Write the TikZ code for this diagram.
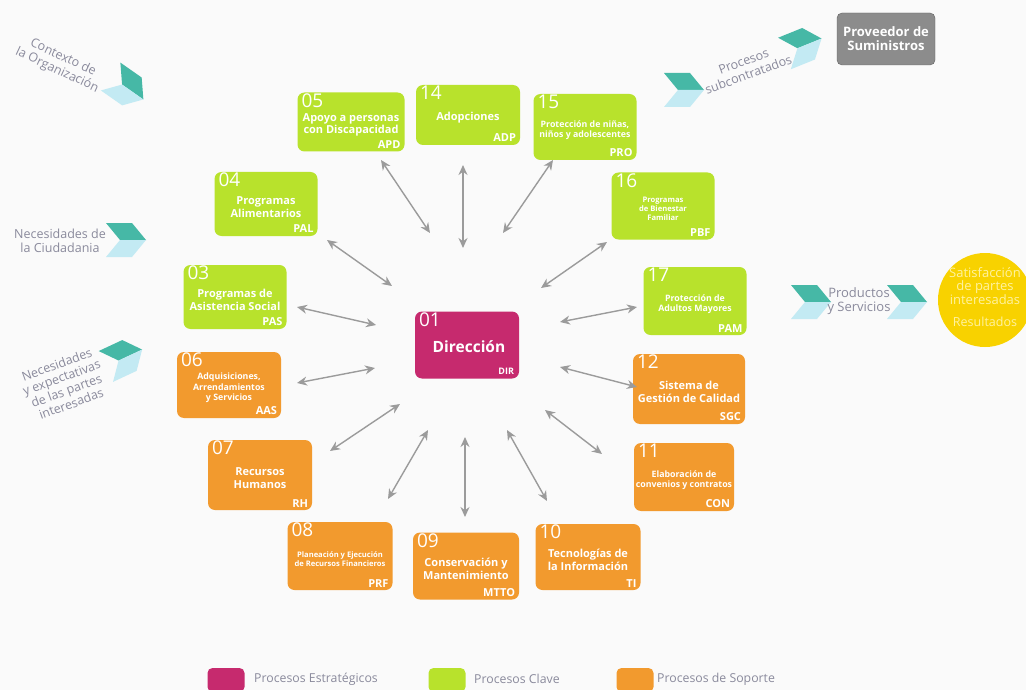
\documentclass[tikz,border=0pt]{standalone}
\usepackage{fontspec}
\setmainfont{Open Sans}
\usetikzlibrary{arrows.meta,calc}
\definecolor{cbg}{HTML}{FAFAFA}
\definecolor{cgreen}{HTML}{B8E22C}
\definecolor{corange}{HTML}{F29A2E}
\definecolor{cmag}{HTML}{C62A6E}
\definecolor{carrow}{HTML}{9B9B9B}
\definecolor{cteal}{HTML}{46B8A6}
\definecolor{clight}{HTML}{C3EAF3}
\definecolor{ctext}{HTML}{8A8A9C}
\definecolor{cyellow}{HTML}{F8D200}
\definecolor{cyeltext}{HTML}{FFF2A0}
\definecolor{cgraybox}{HTML}{8C8C8C}
\tikzset{
  pbox/.style={rounded corners=7pt, inner sep=0pt},
  pnum/.style={text=white, font=\fontsize{19}{19}\selectfont, inner sep=0pt, anchor=north west},
  ptitle/.style={text=white, font=\bfseries\fontsize{11}{12.5}\selectfont, align=center, inner sep=0pt},
  small/.style={font=\bfseries\fontsize{8.8}{10.5}\selectfont},
  tiny/.style={font=\bfseries\fontsize{7.6}{9}\selectfont},
  pcode/.style={text=white, font=\bfseries\fontsize{11}{11}\selectfont, inner sep=0pt, anchor=south east},
  arr/.style={draw=carrow, line width=1.4pt, {Stealth[length=10pt,width=9pt]}-{Stealth[length=10pt,width=9pt]}},
  side/.style={text=ctext, font=\fontsize{12.5}{14}\selectfont, align=center, inner sep=0pt},
  legtext/.style={text=ctext, font=\fontsize{12.3}{13}\selectfont, inner sep=0pt, anchor=west},
  legbox/.style={rounded corners=5pt, minimum width=37pt, minimum height=24pt, inner sep=0pt},
  chev/.pic={
    \fill[cteal] (-20,-17) -- (6,-17) -- (20,0) -- (-6,0) -- cycle;
    \fill[clight] (-6,0) -- (20,0) -- (6,17) -- (-20,17) -- cycle;
  }
}
% #1 title options, #2 name, #3 position, #4 width, #5 height, #6 colour, #7 number, #8 title, #9 code
\newcommand\procnode[9][]{%
  \node[pbox,fill=#6,minimum width=#4pt,minimum height=#5pt] (#2) at #3 {};
  \node[pnum] (#2-num) at ($(#2.north west)+(4,1)$) {#7};
  \node[ptitle,#1] (#2-title) at ($(#2.center)+(0,3)$) {#8};
  \node[pcode] (#2-code) at ($(#2.south east)+(-4,-3)$) {#9};
}
\begin{document}
\begin{tikzpicture}[x=1pt,y=-1pt]
\useasboundingbox (0,0) rectangle (1026,690);
\fill[cbg] (0,0) rectangle (1026,690);

% process boxes
\procnode{APD}{(351,122)}{107}{59}{cgreen}{05}{Apoyo a personas\\con Discapacidad}{APD}
\procnode{ADP}{(468,115)}{104}{60}{cgreen}{14}{Adopciones}{ADP}
\procnode[small]{PRO}{(585,127)}{103}{66}{cgreen}{15}{Protección de niñas,\\niños y adolescentes}{PRO}
\procnode{PAL}{(266,204)}{103}{64}{cgreen}{04}{Programas\\Alimentarios}{PAL}
\procnode[tiny]{PBF}{(663,206)}{103}{67}{cgreen}{16}{Programas\\de Bienestar\\Familiar}{PBF}
\procnode{PAS}{(235,297)}{103}{64}{cgreen}{03}{Programas de\\Asistencia Social}{PAS}
\procnode[small]{PAM}{(695,301)}{103}{68}{cgreen}{17}{Protección de\\Adultos Mayores}{PAM}
\procnode[small]{AAS}{(229,385)}{104}{66}{corange}{06}{Adquisiciones,\\Arrendamientos\\y Servicios}{AAS}
\procnode{SGC}{(689,389)}{112}{70}{corange}{12}{Sistema de\\Gestión de Calidad}{SGC}
\procnode{RH}{(260,475)}{104}{70}{corange}{07}{Recursos\\Humanos}{RH}
\procnode[small]{CON}{(684,477)}{100}{68}{corange}{11}{Elaboración de\\convenios y contratos}{CON}
\procnode[tiny]{PRF}{(340,556)}{105}{68}{corange}{08}{Planeación y Ejecución\\de Recursos Financieros}{PRF}
\procnode{MTTO}{(466,566)}{106}{67}{corange}{09}{Conservación y\\Mantenimiento}{MTTO}
\procnode{TI}{(588,557)}{105}{66}{corange}{10}{Tecnologías de\\la Información}{TI}

% central box
\node[pbox,fill=cmag,minimum width=104pt,minimum height=67pt] (DIR) at (467,345) {};
\node[pnum] (DIR-num) at ($(DIR.north west)+(4,1)$) {01};
\node[text=white,font=\bfseries\fontsize{15.5}{15.5}\selectfont,inner sep=0pt] (DIR-title) at ($(DIR.center)+(2,2)$) {Dirección};
\node[pcode,font=\bfseries\fontsize{9}{9}\selectfont] (DIR-code) at ($(DIR.south east)+(-5,-4)$) {DIR};

% arrows
\coordinate (a1s) at (381,160); \coordinate (a1e) at (430,233);
\coordinate (a2s) at (463,165); \coordinate (a2e) at (463,248);
\coordinate (a3s) at (553,160); \coordinate (a3e) at (503,233);
\coordinate (a4s) at (327,240); \coordinate (a4e) at (392,286);
\coordinate (a5s) at (607,242); \coordinate (a5e) at (541,288);
\coordinate (a6s) at (297,307); \coordinate (a6e) at (376,325);
\coordinate (a7s) at (637,307); \coordinate (a7e) at (560,322);
\coordinate (a8s) at (297,383); \coordinate (a8e) at (375,368);
\coordinate (a9s) at (560,367); \coordinate (a9e) at (637,387);
\coordinate (a10s) at (330,451); \coordinate (a10e) at (400,404);
\coordinate (a11s) at (388,499); \coordinate (a11e) at (428,430);
\coordinate (a12s) at (465,437); \coordinate (a12e) at (465,517);
\coordinate (a13s) at (507,430); \coordinate (a13e) at (547,501);
\coordinate (a14s) at (545,410); \coordinate (a14e) at (602,454);
\foreach \i in {1,...,14} {\draw[arr] (a\i s) -- (a\i e);}

% left inputs
\node[side,rotate=-25] (ctx) at (60,64) {Contexto de\\la Organización};
\pic[rotate=-35] at (127,88) {chev};
\node[side] (ciu) at (60,241) {Necesidades de\\la Ciudadania};
\pic at (126,240) {chev};
\node[side,rotate=20] (nec) at (64,384) {Necesidades\\y expectativas\\de las partes\\interesadas};
\pic[rotate=25] at (124,358) {chev};

% subcontracted
\begin{scope}[shift={(684,90)},rotate=22,xscale=-1]
  \pic {chev};
\end{scope}
\pic[rotate=22] at (803,46) {chev};
\node[side,rotate=20] (sub) at (746,68) {Procesos\\subcontratados};
\node[fill=cgraybox,draw=cgraybox!70!black,rounded corners=5pt,minimum width=98pt,minimum height=52pt,text=white,font=\bfseries\fontsize{13}{14}\selectfont,align=center,inner sep=0pt] (PROV) at (886,39) {Proveedor de\\Suministros};

% outputs
\begin{scope}[shift={(811,302)},xscale=-1]
  \pic {chev};
\end{scope}
\pic at (907,302) {chev};
\node[side,font=\fontsize{13}{14.5}\selectfont] (prod) at (859,301) {Productos\\y Servicios};
\node[circle,fill=cyellow,minimum size=94pt,inner sep=0pt] (SAT) at (985,300) {};
\node[text=cyeltext,font=\fontsize{13}{12.5}\selectfont,align=center,inner sep=0pt] (SAT-t) at (985,286) {Satisfacción\\de partes\\interesadas};
\node[text=cyeltext,font=\fontsize{12.5}{12.5}\selectfont,inner sep=0pt] (SAT-r) at (985,322) {Resultados};

% legend
\node[legbox,fill=cmag] (L1) at (226,680) {};
\node[legtext] (L1t) at (254,679) {Procesos Estratégicos};
\node[legbox,fill=cgreen] (L2) at (447,680) {};
\node[legtext] (L2t) at (474,679) {Procesos Clave};
\node[legbox,fill=corange] (L3) at (635,680) {};
\node[legtext] (L3t) at (657,679) {Procesos de Soporte};
\end{tikzpicture}
\end{document}
